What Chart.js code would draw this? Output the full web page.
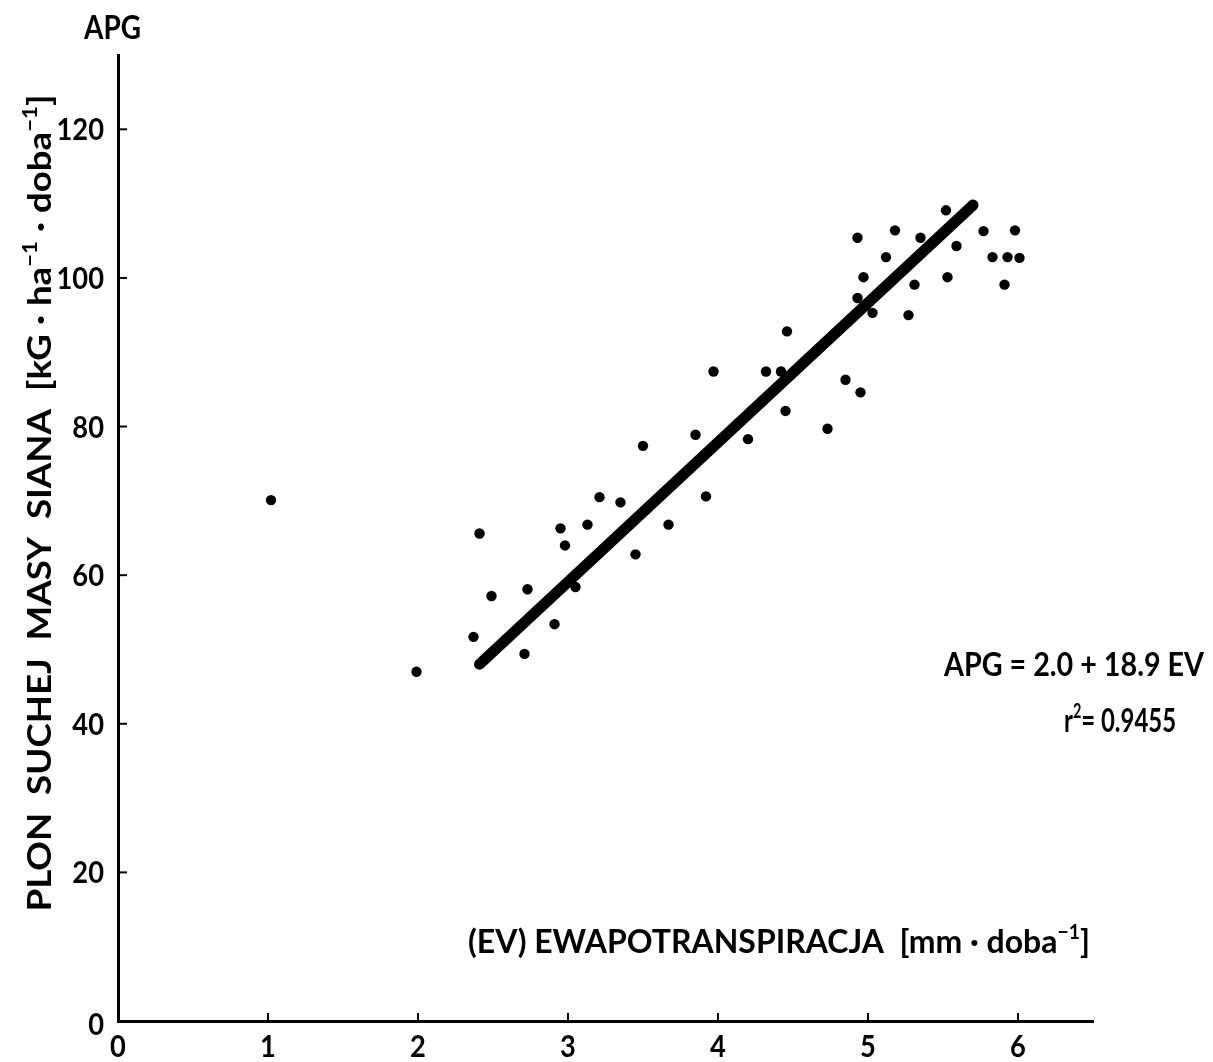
<!DOCTYPE html>
<html><head><meta charset="utf-8">
<script src="https://cdn.jsdelivr.net/npm/chart.js@4.4.0/dist/chart.umd.min.js"></script>
<style>html,body{margin:0;padding:0;background:#fff;}#wrap{position:relative;width:1213px;height:1062px;}</style>
</head><body><div id="wrap"><canvas id="c" width="1213" height="1062"></canvas></div>
<script>
// ---- data ----
const evValues = [1.02,1.99,2.37,2.41,2.49,2.71,2.73,2.91,2.95,2.98,3.05,3.13,3.21,3.35,3.45,3.50,3.67,3.85,3.92,3.97,4.20,4.32,4.42,4.46,4.45,4.73,4.85,4.95,4.93,4.93,4.97,5.03,5.12,5.18,5.27,5.31,5.35,5.52,5.53,5.59,5.77,5.83,5.91,5.93,5.98,6.01];
const apgValues = [70.1,47.0,51.7,65.6,57.2,49.4,58.1,53.4,66.3,64.0,58.4,66.8,70.5,69.8,62.8,77.4,66.8,78.9,70.6,87.4,78.3,87.4,87.4,92.8,82.1,79.7,86.3,84.6,97.3,105.4,100.1,95.3,102.8,106.4,95.0,99.1,105.4,109.1,100.1,104.3,106.3,102.8,99.1,102.8,106.4,102.7];
const fitEV = [2.41, 5.70];
const fitAPG = [48.0, 109.8];
const xTickValues = [0,1,2,3,4,5,6];
const yTickValues = [0,20,40,60,80,100,120];
const yTopLabel = 'APG';
const xTitleParts = [['(EV) EWAPOTRANSPIRACJA  [mm · doba',false],['−1',true],[']',false]];
const yTitleParts = [['PLON  SUCHEJ  MASY  SIANA  [kG · ha',false],['−1',true],[' · doba',false],['−1',true],[']',false]];
const equationText = 'APG = 2.0 + 18.9 EV';
const r2Parts = [['r',false],['2',true],['= 0.9455',false]];

const FONT = 'Lato, "DejaVu Sans", sans-serif';
const TXT = 33;

function drawRich(ctx, parts, x, y, size, align, targetWidth, sxFixed) {
  let w = 0;
  for (const [t, sup] of parts) {
    ctx.font = `bold ${sup ? Math.round(size*0.62) : size}px ${FONT}`;
    w += ctx.measureText(t).width;
  }
  const sx = sxFixed || (targetWidth ? targetWidth / w : 1);
  ctx.save();
  ctx.translate(x, y);
  ctx.scale(sx, 1);
  let cx = align === 'right' ? -w : (align === 'center' ? -w/2 : 0);
  ctx.textBaseline = 'alphabetic';
  ctx.textAlign = 'left';
  ctx.fillStyle = '#000';
  for (const [t, sup] of parts) {
    ctx.font = `bold ${sup ? Math.round(size*0.62) : size}px ${FONT}`;
    ctx.fillText(t, cx, sup ? -size*0.42 : 0);
    cx += ctx.measureText(t).width;
  }
  ctx.restore();
}

const decor = {
  id: 'decor',
  afterDraw(chart) {
    const ctx = chart.ctx;
    const xs = chart.scales.x, ys = chart.scales.y;
    ctx.save();
    ctx.strokeStyle = '#000';
    ctx.lineWidth = 2;
    for (const v of xTickValues) {
      const px = xs.getPixelForValue(v);
      if (v !== 0) { ctx.beginPath(); ctx.moveTo(px, ys.bottom); ctx.lineTo(px, ys.bottom - 8); ctx.stroke(); }
      drawRich(ctx, [[String(v), false]], px, 1057, 31, 'center', null, 0.88);
    }
    for (const v of yTickValues) {
      const py = ys.getPixelForValue(v);
      if (v !== 0) { ctx.beginPath(); ctx.moveTo(xs.left, py); ctx.lineTo(xs.left + 9, py); ctx.stroke(); }
      drawRich(ctx, [[String(v), false]], 104, py + 11 + (v === 0 ? 3 : 0), 31, 'right', null, 0.88);
    }
    drawRich(ctx, [[yTopLabel, false]], 84, 39, TXT, 'left', 57);
    drawRich(ctx, xTitleParts, 1090, 953, TXT, 'right', 622);
    ctx.save();
    ctx.translate(51, 503);
    ctx.rotate(-Math.PI/2);
    drawRich(ctx, yTitleParts, 0, 0, TXT, 'center', 817);
    ctx.restore();
    drawRich(ctx, [[equationText,false]], 1204, 676, TXT, 'right', 260);
    drawRich(ctx, r2Parts, 1176, 732, TXT, 'right', 112);
    ctx.restore();
  }
};

new Chart(document.getElementById('c'), {
  type: 'scatter',
  data: {
    datasets: [
      {
        label: 'APG',
        data: evValues.map((x, i) => ({x, y: apgValues[i]})),
        backgroundColor: '#000', borderColor: '#000',
        pointRadius: 5.2, pointHoverRadius: 5.2, borderWidth: 0
      },
      {
        type: 'line',
        label: 'fit',
        data: fitEV.map((x, i) => ({x, y: fitAPG[i]})),
        borderColor: '#000', borderWidth: 11, borderCapStyle: 'round',
        pointRadius: 0, fill: false, tension: 0
      }
    ]
  },
  plugins: [decor],
  options: {
    responsive: false, animation: false,
    layout: { padding: { top: 55, right: 120, left: 0, bottom: 0 } },
    plugins: { legend: { display: false }, tooltip: { enabled: false }, title: { display: false } },
    scales: {
      x: {
        type: 'linear', min: 0, max: 6.5,
        afterBuildTicks: s => { s.ticks = xTickValues.map(v => ({value: v})); },
        afterFit: s => { s.height = 1062 - 1021; },
        grid: { display: false, drawTicks: false },
        border: { display: true, color: '#000', width: 3 },
        ticks: { display: false }
      },
      y: {
        type: 'linear', min: 0, max: 130,
        afterBuildTicks: s => { s.ticks = yTickValues.map(v => ({value: v})); },
        afterFit: s => { s.width = 118; },
        grid: { display: false, drawTicks: false },
        border: { display: true, color: '#000', width: 3 },
        ticks: { display: false }
      }
    }
  }
});
</script></body></html>
